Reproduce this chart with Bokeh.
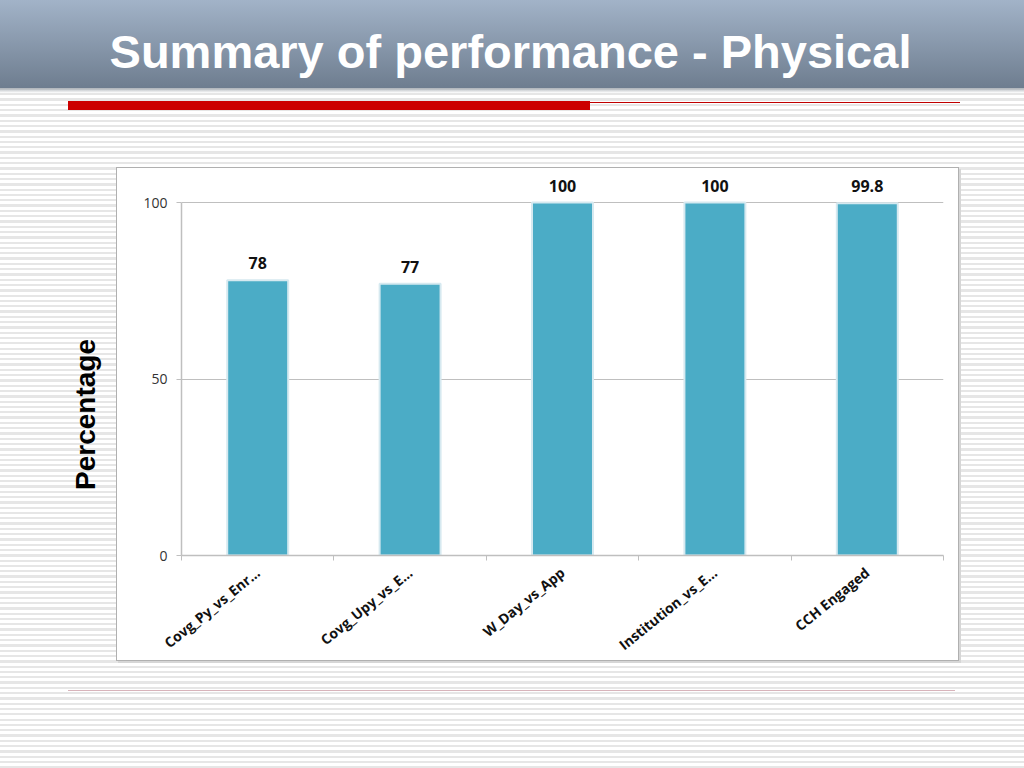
from bokeh.plotting import figure
from bokeh.models import Range1d, FixedTicker, Label, LabelSet, ColumnDataSource
from bokeh.embed import file_html
from bokeh.resources import INLINE
from bokeh.core.properties import value
import math

# ---- data ----
categories = ["Covg_Py_vs_Enr…", "Covg_Upy_vs_E…", "W_Day_vs_App", "Institution_vs_E…", "CCH Engaged"]
values = [78, 77, 100, 100, 99.8]
y_ticks = [0, 50, 100]
y_max = 100
title_text = "Summary of performance - Physical"
y_label = "Percentage"

# ---- layout (page pixels) ----
W, H = 1024, 768
FL, FR, FB = 181, 943, 555      # frame left/right/bottom
Y100 = 202                       # pixel row of value 100
FTOP = 170                       # frame top (room for data labels)
y_end = y_max * (FB - FTOP) / (FB - Y100)

p = figure(width=W, height=H, output_backend="svg", toolbar_location=None,
           x_range=Range1d(0, len(categories)), y_range=Range1d(0, y_end),
           min_border_left=FL, min_border_right=W - FR,
           min_border_top=FTOP, min_border_bottom=H - FB)
p.outline_line_color = None
p.background_fill_alpha = 0
p.border_fill_alpha = 0
p.extra_x_ranges = {"px": Range1d(FL, FR)}
p.extra_y_ranges = {"px": Range1d(FB, FTOP)}


def layer(color, x, y, w, h):
    g = color if "gradient" in color else "linear-gradient(%s,%s)" % (color, color)
    return "%s %dpx %dpx / %dpx %dpx no-repeat" % (g, x, y, w, h)


bg_layers = [
    layer("linear-gradient(to bottom,#a2b3c8,#6e7d8f)", 0, 0, 1024, 88),
    layer("linear-gradient(to bottom,#aeb4ba,rgba(255,255,255,0))", 0, 88, 1024, 5),
    layer("#cc0000", 68, 101, 522, 9),
    layer("#c00000", 590, 102, 370, 1),
    layer("#d8b4bb", 68, 690, 887, 1),
    layer("#ffffff", 117, 168, 841, 492),
    layer("#b0b0b0", 116, 167, 843, 494),
    layer("#d6d6d6", 118, 169, 843, 494),
    "repeating-linear-gradient(to bottom,#ffffff 0px,#ffffff 3px,#e6e6e6 3px,#e6e6e6 5.3px)",
]
p.styles = {"background": ",".join(bg_layers)}

# ---- bars ----
xs = [i + 0.5 for i in range(len(categories))]
src = ColumnDataSource(dict(x=xs, top=values, label=["%g" % v for v in values]))
p.vbar(x="x", top="top", width=0.4, source=src, fill_color="#4bacc6",
       line_color="#d6e9f0", line_width=2)

p.add_layout(LabelSet(x="x", y="top", text="label", source=src, y_offset=11,
                      text_align="center", text_baseline="alphabetic",
                      text_font=value("Open Sans"), text_font_style="bold",
                      text_font_size="16px", text_color="#111111"))

# ---- axes ----
p.xgrid.visible = False
p.ygrid.ticker = FixedTicker(ticks=y_ticks)
p.ygrid.grid_line_color = "#bfbfbf"
p.ygrid.grid_line_width = 1.2

ya = p.yaxis[0]
ya.ticker = FixedTicker(ticks=y_ticks)
ya.bounds = (0, y_max)
ya.axis_line_color = "#bfbfbf"
ya.axis_line_width = 1.5
ya.major_tick_line_color = "#bfbfbf"
ya.major_tick_in = 0
ya.major_tick_out = 5
ya.minor_tick_line_color = None
ya.major_label_standoff = 9
ya.major_label_text_font = "Open Sans"
ya.major_label_text_font_size = "14px"
ya.major_label_text_color = "#333333"

xa = p.xaxis[0]
xa.ticker = FixedTicker(ticks=xs, minor_ticks=list(range(len(categories) + 1)))
xa.major_label_overrides = {x: c for x, c in zip(xs, categories)}
xa.axis_line_color = "#bfbfbf"
xa.axis_line_width = 1.5
xa.major_tick_in = 0
xa.major_tick_out = 0
xa.minor_tick_in = 0
xa.minor_tick_out = 5
xa.minor_tick_line_color = "#bfbfbf"
xa.major_label_orientation = 0.68
xa.major_label_standoff = 10
xa.major_label_text_font = "Open Sans"
xa.major_label_text_font_style = "bold"
xa.major_label_text_font_size = "14px"
xa.major_label_text_color = "#111111"

# ---- texts (placed in side panels so they are not clipped to the frame) ----
p.add_layout(Label(x=510, y=51, text=title_text, x_range_name="px", y_range_name="px",
                   text_align="center", text_baseline="alphabetic",
                   text_font="Liberation Sans",
                   text_font_style="bold", text_font_size="47px", text_color="#ffffff"), "above")
p.add_layout(Label(x=85, y=414, text=y_label, x_range_name="px", y_range_name="px",
                   angle=math.pi / 2, text_align="center", text_baseline="middle",
                   text_font="Liberation Sans", text_font_style="bold",
                   text_font_size="28px", text_color="#000000"), "left")

open("out.html", "w").write(file_html(p, INLINE))
